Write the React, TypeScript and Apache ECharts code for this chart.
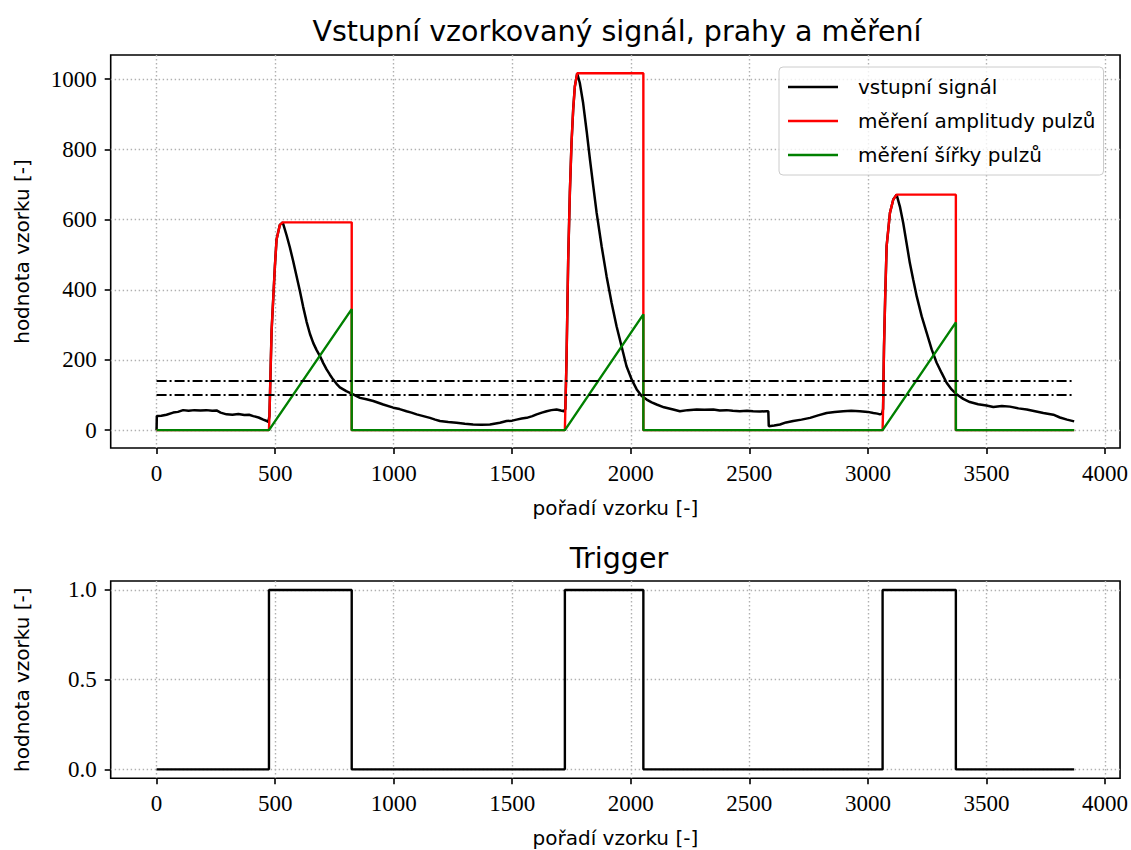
import React, { useEffect, useRef } from "react";
import * as echarts from "echarts";

// Sampled input signal: [sample index, value]
const inputSignal: [number, number][] = [
  [0, 0], [1, 40], [20, 41], [42, 44], [70, 50], [90, 52], [112, 57], [135, 55], [160, 57], [185, 56],
  [210, 57], [235, 55], [253, 56], [270, 50], [295, 45], [320, 44], [345, 46], [370, 43], [390, 44],
  [408, 40], [430, 36], [450, 30], [465, 26], [471, 23],
  [476, 40], [485, 282], [499, 467], [506, 543], [520, 585], [532, 592],
  [548, 556], [562, 521], [576, 482], [590, 440], [604, 398], [618, 352], [633, 308], [647, 274],
  [661, 248], [675, 228], [689, 211], [703, 191], [717, 173], [731, 158],
  [745, 144], [759, 132], [773, 122], [800, 111], [829, 102], [858, 92], [885, 88], [914, 83], [956, 73],
  [998, 64], [1025, 60], [1054, 54], [1075, 50], [1097, 45], [1125, 40], [1153, 35], [1175, 30],
  [1195, 26], [1230, 23], [1265, 21], [1300, 18], [1335, 16], [1370, 15], [1406, 16], [1430, 19],
  [1448, 21], [1476, 26], [1500, 27], [1518, 30], [1540, 33], [1561, 35], [1585, 40], [1603, 45],
  [1625, 50], [1645, 54], [1665, 57], [1687, 59], [1705, 56], [1718, 54],
  [1724, 60], [1729, 201], [1736, 486], [1743, 676], [1750, 818], [1757, 913], [1764, 979], [1774, 1017],
  [1785, 989], [1799, 932], [1814, 851], [1828, 770], [1842, 694], [1856, 619], [1877, 524],
  [1898, 438], [1919, 363], [1940, 296], [1961, 239], [1982, 182], [2004, 144], [2025, 116],
  [2046, 97], [2067, 87], [2088, 79], [2109, 73], [2140, 65], [2179, 59], [2207, 54], [2240, 57],
  [2278, 59], [2310, 58], [2348, 59], [2375, 56], [2404, 57], [2430, 55], [2460, 54], [2490, 55],
  [2516, 54], [2545, 53], [2573, 54], [2580, 54],
  [2582, 11], [2605, 13], [2629, 16], [2655, 22], [2685, 26], [2720, 30], [2756, 35], [2790, 42],
  [2826, 49], [2860, 52], [2896, 54], [2930, 55], [2966, 54], [3000, 52], [3023, 49], [3040, 47],
  [3051, 45], [3060, 47],
  [3064, 60], [3068, 239], [3073, 381], [3079, 524], [3086, 571], [3093, 619], [3107, 657], [3121, 671],
  [3135, 637], [3149, 590], [3163, 533], [3177, 476], [3191, 429], [3206, 381], [3227, 324],
  [3248, 277], [3269, 230], [3290, 192], [3311, 163], [3332, 135], [3353, 116], [3374, 102],
  [3402, 89], [3430, 80], [3465, 74], [3500, 70], [3529, 66], [3565, 69], [3599, 67], [3635, 62],
  [3670, 59], [3705, 54], [3740, 49], [3782, 44], [3810, 36], [3840, 30], [3870, 25],
];

// Pulse amplitude measurement (held maximum while the trigger is active)
const amplitudeMeasure: [number, number][] = [
  [0, 0], [474, 0], [476, 40], [485, 282], [499, 467], [506, 543], [520, 585], [532, 592],
  [823, 592], [823, 0], [1722, 0], [1724, 60], [1729, 201], [1736, 486], [1743, 676],
  [1750, 818], [1757, 913], [1764, 979], [1774, 1017], [2053, 1017], [2053, 0], [3062, 0],
  [3064, 60], [3068, 239], [3073, 381], [3079, 524], [3086, 571], [3093, 619], [3107, 657],
  [3121, 671], [3371, 671], [3371, 0], [3870, 0],
];

// Pulse width measurement (sample counter while the trigger is active)
const widthMeasure: [number, number][] = [
  [0, 0], [474, 0], [823, 345], [823, 0], [1722, 0], [2053, 330], [2053, 0],
  [3062, 0], [3371, 307], [3371, 0], [3870, 0],
];

// Trigger output
const triggerSignal: [number, number][] = [
  [0, 0], [474, 0], [474, 1], [823, 1], [823, 0], [1722, 0], [1722, 1], [2053, 1], [2053, 0],
  [3062, 0], [3062, 1], [3371, 1], [3371, 0], [3870, 0],
];

const thresholds = [100, 140];
const sampleRange = [0, 3870];

const xTicks = [0, 500, 1000, 1500, 2000, 2500, 3000, 3500, 4000];
const yTicksTop = [0, 200, 400, 600, 800, 1000];
const yTicksBottom = [0, 0.5, 1];

const SANS = "'DejaVu Sans', sans-serif";
const SERIF = "'Liberation Serif', 'DejaVu Serif', serif";

const gridLine = { color: "#b0b0b0", width: 1.4, type: [1.4, 2.6] as number[] };

function xAxisFor(gridIndex: number) {
  return {
    type: "value" as const,
    gridIndex,
    min: -193.5,
    max: 4063.5,
    name: "pořadí vzorku [-]",
    nameLocation: "middle" as const,
    nameGap: 50,
    nameTextStyle: { fontFamily: SANS, fontSize: 20, color: "#000" },
    axisLine: { show: false, onZero: false },
    axisTick: { show: true, customValues: xTicks, length: 6, lineStyle: { color: "#000", width: 1.6 } },
    axisLabel: {
      customValues: xTicks,
      margin: 14,
      fontFamily: SERIF,
      fontSize: 23,
      color: "#000",
      formatter: (v: number) => String(v),
    },
    splitLine: { show: true, lineStyle: gridLine },
  };
}

function yAxisFor(gridIndex: number, min: number, max: number, ticks: number[], fmt: (v: number) => string) {
  return {
    type: "value" as const,
    gridIndex,
    min,
    max,
    name: "hodnota vzorku [-]",
    nameLocation: "middle" as const,
    nameGap: 79,
    nameTextStyle: { fontFamily: SANS, fontSize: 20, color: "#000" },
    axisLine: { show: false, onZero: false },
    axisTick: { show: true, customValues: ticks, length: 6, lineStyle: { color: "#000", width: 1.6 } },
    axisLabel: { customValues: ticks, margin: 14, fontFamily: SERIF, fontSize: 23, color: "#000", formatter: fmt },
    splitLine: { show: true, lineStyle: gridLine },
  };
}

export default function App() {
  const ref = useRef<HTMLDivElement>(null);

  useEffect(() => {
    if (!ref.current) return;
    const chart = echarts.init(ref.current, undefined, { renderer: "svg" });
    const lineBase = { type: "line" as const, symbol: "none", silent: true };
    chart.setOption({
      animation: false,
      backgroundColor: "#ffffff",
      title: [
        {
          text: "Vstupní vzorkovaný signál, prahy a měření",
          left: 612,
          top: 12,
          textAlign: "center",
          textStyle: { fontFamily: SANS, fontSize: 28.5, fontWeight: "normal", color: "#000" },
        },
        {
          text: "Trigger",
          left: 614,
          top: 539,
          textAlign: "center",
          textStyle: { fontFamily: SANS, fontSize: 28.5, fontWeight: "normal", color: "#000" },
        },
      ],
      grid: [
        { left: 110.7, top: 55, width: 1010, height: 393, show: true, borderColor: "#000", borderWidth: 1.6, backgroundColor: "transparent" },
        { left: 110.7, top: 581, width: 1010, height: 197.3, show: true, borderColor: "#000", borderWidth: 1.6, backgroundColor: "transparent" },
      ],
      legend: {
        orient: "vertical",
        left: 779,
        top: 67,
        icon: "rect",
        itemWidth: 50,
        itemHeight: 2.5,
        itemGap: 10,
        padding: [8, 8, 8, 9],
        borderColor: "#cccccc",
        borderWidth: 1,
        borderRadius: 4,
        backgroundColor: "rgba(255,255,255,0.8)",
        textStyle: { fontFamily: SANS, fontSize: 20, color: "#000", lineHeight: 24, padding: [0, 0, 0, 15] },
        data: ["vstupní signál", "měření amplitudy pulzů", "měření šířky pulzů"],
      },
      xAxis: [xAxisFor(0), xAxisFor(1)],
      yAxis: [
        yAxisFor(0, -50.9, 1068.9, yTicksTop, (v: number) => String(v)),
        yAxisFor(1, -0.05, 1.05, yTicksBottom, (v: number) => v.toFixed(1)),
      ],
      series: [
        { ...lineBase, name: "vstupní signál", xAxisIndex: 0, yAxisIndex: 0, data: inputSignal, lineStyle: { color: "#000000", width: 2.5 }, itemStyle: { color: "#000000" }, z: 2 },
        { ...lineBase, name: "měření amplitudy pulzů", xAxisIndex: 0, yAxisIndex: 0, data: amplitudeMeasure, lineStyle: { color: "#ff0000", width: 2.4 }, itemStyle: { color: "#ff0000" }, z: 3 },
        { ...lineBase, name: "měření šířky pulzů", xAxisIndex: 0, yAxisIndex: 0, data: widthMeasure, lineStyle: { color: "#008000", width: 2.4 }, itemStyle: { color: "#008000" }, z: 4 },
        ...thresholds.map((t, i) => ({
          ...lineBase,
          name: `práh ${i + 1}`,
          xAxisIndex: 0,
          yAxisIndex: 0,
          data: [[sampleRange[0], t], [sampleRange[1], t]],
          lineStyle: { color: "#000000", width: 2, type: [10, 3, 2, 3] },
          z: 5,
        })),
        { ...lineBase, name: "trigger", xAxisIndex: 1, yAxisIndex: 1, data: triggerSignal, lineStyle: { color: "#000000", width: 2.4 }, z: 2 },
      ],
    });
    return () => chart.dispose();
  }, []);

  return (
    <div
      ref={ref}
      style={{ position: "fixed", left: 0, top: 0, width: 1131, height: 850, background: "#ffffff" }}
    />
  );
}
